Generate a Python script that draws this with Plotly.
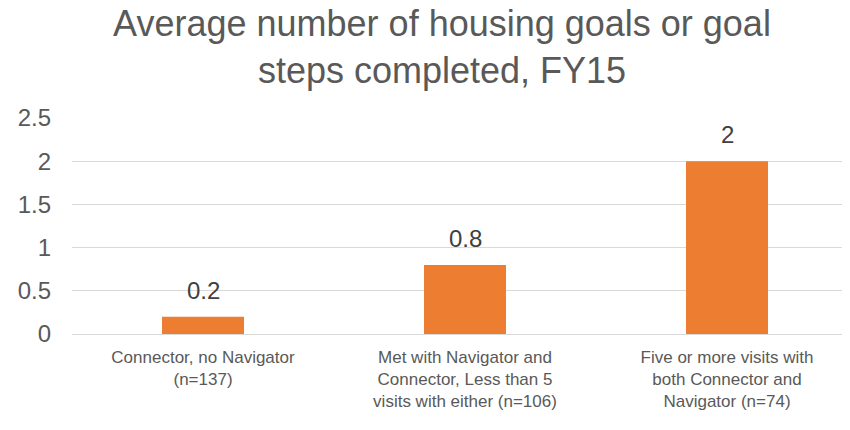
import plotly.graph_objects as go

categories = [
    "Connector, no Navigator<br>(n=137)",
    "Met with Navigator and<br>Connector, Less than 5<br>visits with either (n=106)",
    "Five or more visits with<br>both Connector and<br>Navigator (n=74)",
]
values = [0.2, 0.8, 2]
value_labels = ["0.2", "0.8", "2"]
y_ticks = [0, 0.5, 1, 1.5, 2, 2.5]
y_tick_labels = ["0", "0.5", "1", "1.5", "2", "2.5"]

title_text = "Average number of housing goals or goal<br>steps completed, FY15"

fig = go.Figure()
fig.add_trace(go.Bar(
    x=categories, y=values,
    marker=dict(color="#ED7D31", line=dict(width=0)),
    width=0.313,
    hoverinfo="skip",
))

for c, v, t in zip(categories, values, value_labels):
    fig.add_annotation(
        x=c, y=v, text=t, showarrow=False,
        yanchor="bottom", yshift=11,
        font=dict(family="Liberation Sans, Arial", size=24, color="#404040"),
    )

fig.update_layout(
    width=850, height=430,
    margin=dict(l=64, r=0, t=110, b=104, autoexpand=False),
    paper_bgcolor="white", plot_bgcolor="white",
    showlegend=False,
    title=dict(
        text=title_text,
        x=434 / 850, xanchor="center",
        yref="container", y=1 - 28 / 430, yanchor="middle",
        font=dict(family="Liberation Sans, Arial", size=36, color="#595959"),
        automargin=False,
    ),
)
fig.update_xaxes(
    range=[-0.5, 2.5], automargin=False,
    showgrid=False, zeroline=False, showline=False,
    ticks="", ticklabelstandoff=11,
    tickfont=dict(family="Liberation Sans, Arial", size=17, color="#595959"),
)
fig.update_yaxes(
    range=[0, 2.5], automargin=False,
    tickvals=y_ticks, ticktext=y_tick_labels,
    showgrid=True, gridcolor="#D9D9D9", gridwidth=1.3,
    zeroline=True, zerolinecolor="#D9D9D9", zerolinewidth=1.3,
    showline=False, ticks="", ticklabelstandoff=20,
    tickfont=dict(family="Liberation Sans, Arial", size=24, color="#595959"),
)

fig.write_html("out.html")
